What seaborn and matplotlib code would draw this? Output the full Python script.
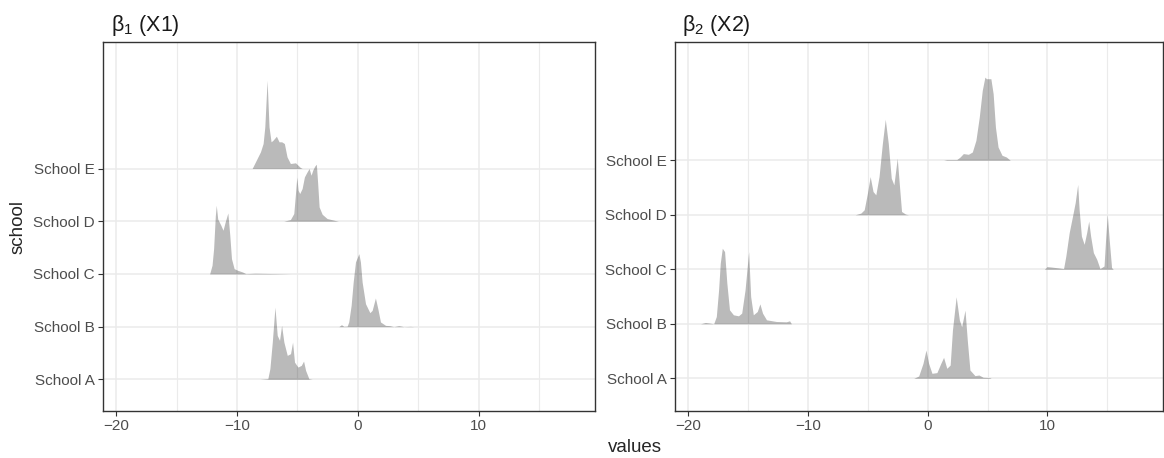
## ridgeline densities of the two coefficients per school (b1 left, b2 right)

import pandas as pd
import matplotlib
matplotlib.use("Agg")
import matplotlib.pyplot as plt
from matplotlib.ticker import MultipleLocator
import seaborn as sns

schools = ["School A", "School B", "School C", "School D", "School E"]
panel_titles = [r"$\mathrm{\beta_1}$ (X1)", r"$\mathrm{\beta_2}$ (X2)"]
x_ticks = [-20, -10, 0, 10]

# ridge outlines: x value and ridge height (pixels above the baseline)
b1_a_x = [-8.11, -7.45, -7.28, -7.08, -6.86, -6.67, -6.48, -6.31, -6.12, -5.84, -5.57, -5.40, -5.24, -4.96, -4.68, -4.49, -4.32, -4.05, -3.77]
b1_a_h = [0, 0.7, 10.7, 37.3, 72.3, 44, 39, 54, 37.3, 24, 25.7, 37.3, 17.3, 12.3, 14, 18.3, 9, 0.7, 0]
b1_b_x = [-1.57, -1.35, -1.16, -0.88, -0.75, -0.55, -0.38, -0.19, 0.09, 0.22, 0.36, 0.64, 1.00, 1.19, 1.46, 1.66, 1.88, 2.30, 2.65, 2.98, 3.40, 3.81, 4.37, 4.65]
b1_b_h = [0, 2, 0.3, 0.5, 4.7, 21.3, 44.7, 64.7, 73, 64.7, 44.7, 23, 14, 16.3, 28.7, 18, 4.7, 1.3, 1, 0, 1, 0, 0.3, 0]
b1_c_x = [-12.27, -12.07, -11.94, -11.80, -11.72, -11.60, -11.34, -11.16, -10.98, -10.76, -10.60, -10.46, -10.24, -9.96, -9.55, -9.27, -8.5, -6.6, -5.5]
b1_c_h = [0, 8.7, 25.3, 58, 68.7, 55, 48.7, 43.7, 52, 61, 38.7, 15.3, 5.3, 3.7, 2, 0.3, 0.7, 0.3, 0]
b1_d_x = [-6.13, -5.58, -5.30, -5.16, -5.05, -4.94, -4.81, -4.61, -4.42, -4.20, -4.03, -3.87, -3.73, -3.57, -3.43, -3.32, -3.20, -2.95, -2.54, -1.71, -1.60]
b1_d_h = [0, 1.7, 7.7, 27.7, 44.3, 31, 27.7, 32.7, 44.3, 49.3, 52.7, 46, 51, 55, 57, 37.7, 14.3, 7, 2.7, 0.3, 0]
b1_e_x = [-8.75, -8.06, -7.84, -7.70, -7.51, -7.35, -7.18, -7.02, -6.74, -6.52, -6.30, -6.08, -5.86, -5.58, -5.16, -4.75, -4.60]
b1_e_h = [0, 16.7, 25, 41.7, 88.3, 41.7, 26.7, 28.3, 32.3, 26.7, 26.7, 25, 11.7, 5, 5.7, 1, 0]

b2_a_x = [-1.16, -0.75, -0.39, -0.14, 0.08, 0.36, 0.77, 1.10, 1.33, 1.60, 1.88, 2.07, 2.38, 2.65, 2.84, 3.12, 3.31, 3.53, 3.95, 4.28, 4.64, 5.20, 5.30]
b2_a_h = [0, 2.3, 15, 28.3, 15, 5, 5.7, 15, 21, 10, 13.3, 48.3, 81.7, 58.3, 51.7, 68.3, 38.3, 8.3, 2.7, 3.3, 1, 0.7, 0]
b2_b_x = [-18.97, -18.56, -18.20, -17.87, -17.65, -17.46, -17.32, -17.15, -16.96, -16.77, -16.55, -16.22, -15.80, -15.53, -15.25, -14.95, -14.78, -14.56, -14.23, -14.01, -13.79, -13.46, -12.63, -11.80, -11.53, -11.38]
b2_b_h = [0, 1.3, 0.7, 0, 7.3, 34, 60.7, 75.7, 72.3, 40.7, 14, 9, 8, 10.7, 34, 72.3, 27.3, 9, 12.3, 20, 10.7, 4, 2.3, 2, 3, 0]
b2_c_x = [9.75, 9.97, 10.30, 10.99, 11.35, 11.54, 11.82, 12.10, 12.32, 12.53, 12.65, 12.84, 13.07, 13.28, 13.45, 13.61, 13.84, 14.12, 14.39, 14.73, 14.86, 15.00, 15.16, 15.36, 15.50, 17.5]
b2_c_h = [0, 2.7, 2.3, 1.3, 0.7, 13.3, 36.7, 53.3, 66.7, 85, 60, 33.3, 25, 36.7, 48.3, 33.3, 16.7, 10, 0.7, 3.3, 30, 55, 30, 1.7, 0, 0]
b2_d_x = [-6.05, -5.58, -5.30, -5.03, -4.80, -4.56, -4.33, -4.06, -3.78, -3.54, -3.29, -3.04, -2.82, -2.54, -2.35, -2.18, -1.85, -1.60]
b2_d_h = [0, 1.7, 5, 21.7, 38.3, 23.3, 20, 38.3, 71.7, 95.7, 71.7, 36.7, 30, 56.7, 28.3, 3.3, 0.7, 0]
b2_e_x = [1.33, 1.60, 2.43, 2.71, 2.98, 3.40, 3.73, 4.03, 4.31, 4.56, 4.78, 4.91, 5.28, 5.47, 5.66, 5.88, 6.21, 6.57, 6.90]
b2_e_h = [0, 0.7, 0.7, 3.3, 6.7, 6, 8.3, 20, 43.3, 70, 83.3, 81.7, 81.7, 66.7, 33.3, 13.3, 5, 3.3, 0]

ridges = {
    0: [(b1_a_x, b1_a_h), (b1_b_x, b1_b_h), (b1_c_x, b1_c_h), (b1_d_x, b1_d_h), (b1_e_x, b1_e_h)],
    1: [(b2_a_x, b2_a_h), (b2_b_x, b2_b_h), (b2_c_x, b2_c_h), (b2_d_x, b2_d_h), (b2_e_x, b2_e_h)],
}

# long table: one row per outline point
rows = []
for panel, curves in ridges.items():
    for i, (xs, hs) in enumerate(curves):
        for xv, hv in zip(xs, hs):
            rows.append({"panel": panel, "school": schools[i], "values": xv, "height": hv})
df = pd.DataFrame(rows)

sns.set_theme(style="ticks")
plt.rcParams["font.family"] = ["Liberation Sans", "DejaVu Sans"]
plt.rcParams["mathtext.fontset"] = "custom"
plt.rcParams["mathtext.rm"] = "Liberation Sans"
plt.rcParams["mathtext.it"] = "Liberation Sans:italic"

fig = plt.figure(figsize=(11.64, 4.58), dpi=100)
ax_pos = [[0.0885, 0.1026, 0.4227, 0.8057], [0.5799, 0.1026, 0.4192, 0.8057]]
px_per_unit = [52.7, 54.6]
y_limits = [(0.40, 7.40), (0.40, 7.17)]
title_x = [111 / 1164, 682 / 1164]

for panel in [0, 1]:
    ax = fig.add_axes(ax_pos[panel])
    sub = df[df["panel"] == panel]
    # draw top ridge first so the lower ones sit in front
    for i in range(len(schools) - 1, -1, -1):
        d = sub[sub["school"] == schools[i]]
        base = i + 1
        ax.fill_between(d["values"], base, base + d["height"] / px_per_unit[panel],
                        color="black", alpha=0.27, linewidth=0, zorder=3)

    ax.set_xlim(-21.1, 19.65)
    ax.set_ylim(*y_limits[panel])
    ax.set_xticks(x_ticks)
    ax.set_xticklabels([str(t).replace("-", "\u2212") for t in x_ticks])
    ax.xaxis.set_minor_locator(MultipleLocator(5))
    ax.set_yticks(range(1, len(schools) + 1))
    ax.set_yticklabels(schools)

    ax.set_axisbelow(True)
    ax.grid(which="major", axis="both", color="#EBEBEB", linewidth=1.1, zorder=0)
    ax.grid(which="minor", axis="x", color="#EBEBEB", linewidth=0.8, zorder=0)
    ax.tick_params(which="major", length=3.5, width=0.8, color="#333333",
                   labelsize=11, labelcolor="#4D4D4D", pad=2.5)
    ax.tick_params(which="minor", length=0)
    for s in ax.spines.values():
        s.set_visible(True)
        s.set_color("#333333")
        s.set_linewidth(1.0)
    ax.set_xlabel("")
    ax.set_ylabel("")

    fig.text(title_x[panel], (458 - 30.5) / 458, panel_titles[panel],
             fontsize=15.5, color="#1A1A1A", ha="left", va="baseline")

fig.text(635 / 1164, 11 / 458, "values", fontsize=13.5, ha="center", va="center")
fig.text(18 / 1164, 0.505, "school", fontsize=13.5, rotation=90, ha="center", va="center")

plt.savefig("out.png", dpi=100)
